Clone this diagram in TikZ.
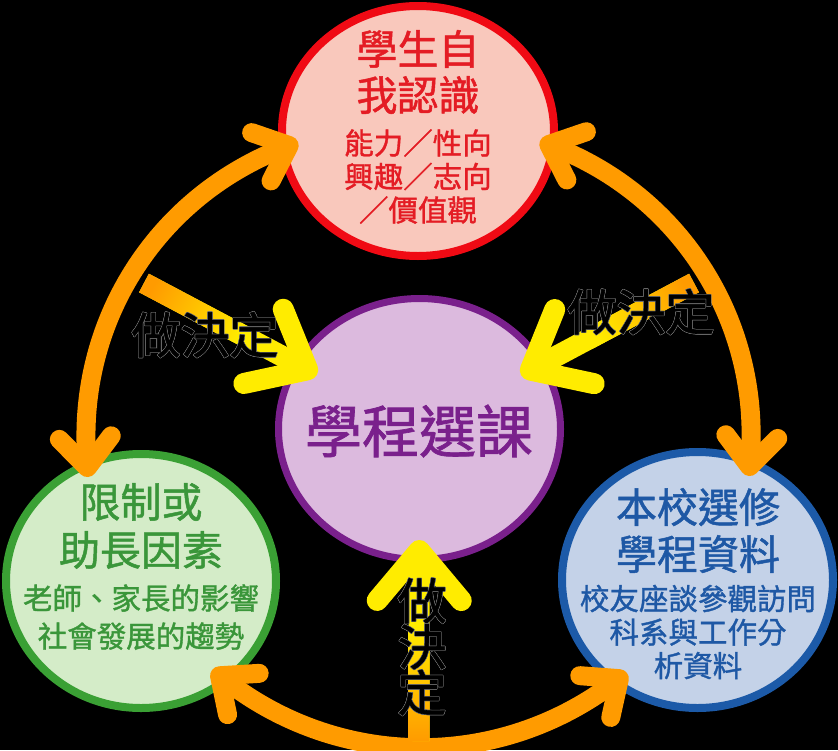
\documentclass[tikz,border=0pt]{standalone}
\usepackage{fontspec}
\setmainfont{Noto Sans CJK TC}[FakeBold=1.2]
\usepackage[copies]{contour}
\contourlength{0.5pt}
\usetikzlibrary{shapes.geometric,arrows.meta,calc}
\definecolor{redline}{RGB}{240,10,20}
\definecolor{redfill}{RGB}{249,200,188}
\definecolor{redtext}{RGB}{228,28,36}
\definecolor{purpline}{RGB}{122,32,140}
\definecolor{purpfill}{RGB}{220,186,222}
\definecolor{purptext}{RGB}{122,32,140}
\definecolor{greenline}{RGB}{58,160,52}
\definecolor{greenfill}{RGB}{212,236,200}
\definecolor{greentext}{RGB}{58,150,58}
\definecolor{blueline}{RGB}{28,90,168}
\definecolor{bluefill}{RGB}{196,210,232}
\definecolor{bluetext}{RGB}{30,88,165}
\definecolor{arcorange}{RGB}{255,155,0}
\definecolor{arrowyellow}{RGB}{255,236,0}
\definecolor{outlinegray}{RGB}{110,110,110}
\begin{document}
\begin{tikzpicture}[x=1pt,y=1pt,
  bubble/.style={ellipse,inner sep=0pt,line width=8pt},
  orangearc/.style={draw=arcorange,line width=19pt,
     {Straight Barb[round,length=30pt,width=52pt]}-{Straight Barb[round,length=30pt,width=52pt]}},
  yarrow/.style={draw=arrowyellow,line width=21pt,
     -{Straight Barb[round,length=50pt,width=84pt]}},
  bigtext/.style={align=center,inner sep=0pt,font=\fontsize{41}{46}\selectfont},
  smalltext/.style={align=center,inner sep=0pt,font=\fontsize{29.5}{33.5}\selectfont},
  decide/.style={inner sep=0pt,align=center,text=black,font=\fontsize{49}{46}\selectfont}
]
\fill[black] (0,0) rectangle (838,-750);
\useasboundingbox (0,0) rectangle (838,-750);

\node[bubble,draw=redline,fill=redfill,minimum width=272pt,minimum height=250pt] (self) at (418,-131) {};
\node[bubble,draw=purpline,fill=purpfill,line width=7pt,minimum width=282pt,minimum height=261pt] (ctr) at (419.5,-429) {};
\node[bubble,draw=greenline,fill=greenfill,minimum width=270pt,minimum height=254pt] (limit) at (141,-581) {};
\node[bubble,draw=blueline,fill=bluefill,minimum width=271pt,minimum height=256pt] (info) at (697.5,-580) {};

\coordinate (a1) at (298,-142);
\coordinate (a2) at (88,-477);
\coordinate (b1) at (540,-141);
\coordinate (b2) at (749,-476);
\coordinate (c1) at (212,-670);
\coordinate (c2) at (627,-673);
\draw[orangearc] (a1) to[bend right=36] (a2);
\draw[orangearc] (b1) to[bend left=36] (b2);
\draw[orangearc] (c1) to[bend right=37] (c2);

\coordinate (yl) at (144,-283);
\coordinate (yr) at (694,-283);
\coordinate (yb) at (419,-741);
\draw[yarrow,shorten >=116pt] (yl) -- (ctr.center);
\draw[yarrow,shorten >=115pt] (yr) -- (ctr.center);
\draw[yarrow,shorten >=111pt] (yb) -- (ctr.center);

\coordinate (yl1) at ($(yl)!120pt!(ctr.center)$);
\coordinate (yr1) at ($(yr)!120pt!(ctr.center)$);
\coordinate (yb1) at ($(yb)!115pt!(ctr.center)$);
\shade[top color=arcorange,bottom color=arrowyellow,shading angle=61]
  ($(yl)!10.5pt!90:(ctr.center)$) -- ($(yl)!10.5pt!-90:(ctr.center)$) --
  ($(yl1)!10.5pt!-90:(ctr.center)$) -- ($(yl1)!10.5pt!90:(ctr.center)$) -- cycle;
\shade[top color=arcorange,bottom color=arrowyellow,shading angle=-61]
  ($(yr)!10.5pt!90:(ctr.center)$) -- ($(yr)!10.5pt!-90:(ctr.center)$) --
  ($(yr1)!10.5pt!-90:(ctr.center)$) -- ($(yr1)!10.5pt!90:(ctr.center)$) -- cycle;
\shade[top color=arrowyellow,bottom color=arcorange]
  ($(yb)!10.5pt!90:(ctr.center)$) -- ($(yb)!10.5pt!-90:(ctr.center)$) --
  ($(yb1)!10.5pt!-90:(ctr.center)$) -- ($(yb1)!10.5pt!90:(ctr.center)$) -- cycle;

\node[bigtext,text=redtext] (selft) at (418,-72) {學生自\\我認識};
\node[smalltext,text=redtext] (selfs) at (418,-176.5) {能力／性向\\興趣／志向\\／價值觀};
\node[inner sep=0pt,text=purptext,font=\fontsize{57}{57}\selectfont] (ctrt) at (419,-431) {學程選課};
\node[bigtext,text=greentext,font=\fontsize{41}{48}\selectfont] (limitt) at (141,-526) {限制或\\助長因素};
\node[smalltext,text=greentext,font=\fontsize{29.5}{38}\selectfont] (limits) at (141,-617) {老師、家長的影響\\社會發展的趨勢};
\node[bigtext,text=bluetext,font=\fontsize{41}{47}\selectfont] (infot) at (698,-530.5) {本校選修\\學程資料};
\node[smalltext,text=bluetext] (infos) at (698,-632) {校友座談參觀訪問\\科系與工作分\\析資料};

\node[decide] (d1) at (205,-335) {\contour{outlinegray}{做決定}};
\node[decide] (d2) at (641,-312) {\contour{outlinegray}{做決定}};
\node[decide] (d3) at (422,-647) {\contour{outlinegray}{做}\\\contour{outlinegray}{決}\\\contour{outlinegray}{定}};
\end{tikzpicture}
\end{document}
